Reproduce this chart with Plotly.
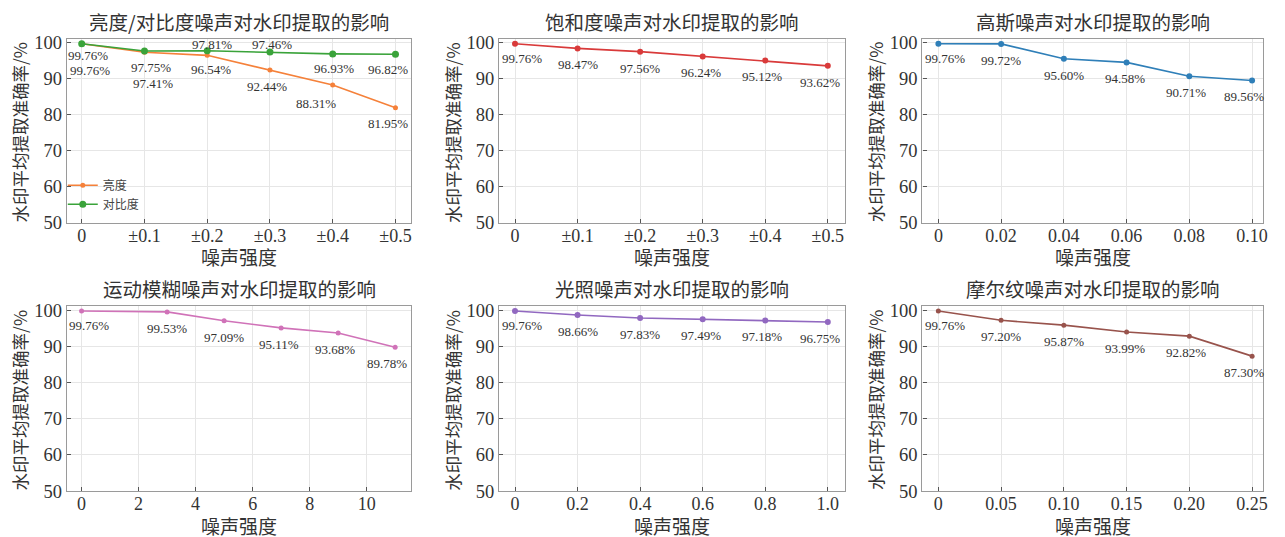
import plotly.graph_objects as go

# ---------------- data ----------------
idx_x = [0, 0.1, 0.2, 0.3, 0.4, 0.5]
idx_ticktext = ["0", "±0.1", "±0.2", "±0.3", "±0.4", "±0.5"]
brightness = [99.76, 97.41, 96.54, 92.44, 88.31, 81.95]
contrast = [99.76, 97.75, 97.81, 97.46, 96.93, 96.82]
saturation = [99.76, 98.47, 97.56, 96.24, 95.12, 93.62]

gauss_x = [0, 0.02, 0.04, 0.06, 0.08, 0.10]
gauss_ticktext = ["0", "0.02", "0.04", "0.06", "0.08", "0.10"]
gauss = [99.76, 99.72, 95.60, 94.58, 90.71, 89.56]

blur_x = [0, 3, 5, 7, 9, 11]
blur_ticks = [0, 2, 4, 6, 8, 10]
blur_ticktext = ["0", "2", "4", "6", "8", "10"]
blur = [99.76, 99.53, 97.09, 95.11, 93.68, 89.78]

light_x = [0, 0.2, 0.4, 0.6, 0.8, 1.0]
light_ticktext = ["0", "0.2", "0.4", "0.6", "0.8", "1.0"]
light = [99.76, 98.66, 97.83, 97.49, 97.18, 96.75]

moire_x = [0, 0.05, 0.10, 0.15, 0.20, 0.25]
moire_ticktext = ["0", "0.05", "0.10", "0.15", "0.20", "0.25"]
moire = [99.76, 97.20, 95.87, 93.99, 92.82, 87.30]

titles = ["亮度/对比度噪声对水印提取的影响", "饱和度噪声对水印提取的影响", "高斯噪声对水印提取的影响",
          "运动模糊噪声对水印提取的影响", "光照噪声对水印提取的影响", "摩尔纹噪声对水印提取的影响"]
y_ticks = [50, 60, 70, 80, 90, 100]

# ---------------- style ----------------
SERIF = "Liberation Serif, Times New Roman, Noto Sans CJK SC, serif"
CJK = "Noto Sans CJK SC, Liberation Serif, serif"
OFF = 8                      # default page body margin
W, H = 1285 - 2 * OFF, 537
SY, CY = 0.971, 4.7          # observed vertical mapping of the page in the photo


def px(v):
    return (v - OFF) / W


def py(v):
    return 1 - ((v - CY) / SY - OFF) / H


# frame pixel boxes in window coordinates (left, right, top, bottom)
cols = [(67, 413), (501, 848), (926, 1268)]
rows = [(38, 222), (305, 490)]

fig = go.Figure()

panels = [
    dict(x=idx_x, ticks=idx_x, tt=idx_ticktext, rng=[-0.0238, 0.5254]),
    dict(x=idx_x, ticks=idx_x, tt=idx_ticktext, rng=[-0.0255, 0.527]),
    dict(x=gauss_x, ticks=gauss_x, tt=gauss_ticktext, rng=[-0.0051, 0.1035]),
    dict(x=blur_x, ticks=blur_ticks, tt=blur_ticktext, rng=[-0.52, 11.57]),
    dict(x=light_x, ticks=light_x, tt=light_ticktext, rng=[-0.051, 1.054]),
    dict(x=moire_x, ticks=moire_x, tt=moire_ticktext, rng=[-0.0127, 0.2587]),
]

series = [
    (0, brightness, "亮度", "#f5813a", 5, True),
    (0, contrast, "对比度", "#3aa33a", 7, True),
    (1, saturation, "饱和度", "#d93a3a", 6, False),
    (2, gauss, "高斯", "#2f7fb8", 6, False),
    (3, blur, "运动模糊", "#d072b8", 5, False),
    (4, light, "光照", "#9168c0", 6, False),
    (5, moire, "摩尔纹", "#98534c", 5, False),
]

layout = dict(
    width=W, height=H, margin=dict(l=0, r=0, t=0, b=0),
    paper_bgcolor="white", plot_bgcolor="white",
    font=dict(family=SERIF, color="#333333"),
    showlegend=True,
    legend=dict(x=px(63), y=py(170), xanchor="left", yanchor="top",
                bgcolor="rgba(0,0,0,0)", font=dict(family=CJK, size=12, color="#444444"),
                itemwidth=30, tracegroupgap=0, traceorder="normal"),
)

annotations = []
for i, p in enumerate(panels):
    r, c = divmod(i, 3)
    (xl, xr), (yt, yb) = cols[c], rows[r]
    n = "" if i == 0 else str(i + 1)
    layout["xaxis" + n] = dict(
        domain=[px(xl), px(xr)], range=p["rng"], anchor="y" + n,
        tickvals=p["ticks"], ticktext=p["tt"], tickfont=dict(size=18, family=SERIF, color="#333333"),
        ticklabelstandoff=-4,
        showgrid=True, gridcolor="#e6e6e6", gridwidth=1, zeroline=False,
        showline=True, linecolor="#9a9a9a", linewidth=1.3, mirror=True,
        ticks="inside", ticklen=4, tickcolor="#555555", tickwidth=1,
    )
    layout["yaxis" + n] = dict(
        domain=[py(yb), py(yt)], range=[50, 101.2], anchor="x" + n,
        tickvals=y_ticks, tickfont=dict(size=18.5, family=SERIF, color="#333333"),
        showgrid=True, gridcolor="#e6e6e6", gridwidth=1, zeroline=False,
        showline=True, linecolor="#9a9a9a", linewidth=1.3, mirror=True,
        ticks="inside", ticklen=4, tickcolor="#555555", tickwidth=1,
    )
    cx = (xl + xr) / 2
    annotations.append(dict(text=titles[i], x=px(cx), y=py(yt - 17), xref="paper", yref="paper",
                            showarrow=False, xanchor="center", yanchor="middle",
                            font=dict(family=CJK, size=19.5, color="#333333")))
    annotations.append(dict(text="噪声强度", x=px(cx), y=py(yb + 34), xref="paper", yref="paper",
                            showarrow=False, xanchor="center", yanchor="middle",
                            font=dict(family=CJK, size=19, color="#333333")))
    annotations.append(dict(text="水印平均提取准确率/%", x=px(xl - 47), y=py((yt + yb) / 2 + 2),
                            xref="paper", yref="paper", textangle=-90,
                            showarrow=False, xanchor="center", yanchor="middle",
                            font=dict(family=CJK, size=17.5, color="#333333")))

# label offsets (pixels) for the first panel, where two series overlap
offsets = {
    "亮度": [(8, -22), (9, -27), (4, -10), (-3, -12), (-17, -14), (-7, -11)],
    "对比度": [(6, -7), (7, -12), (5, 2), (2, 3), (1, -10), (-7, -11)],
}
default_off = [(7, -10), (0, -12), (0, -12), (-2, -12), (-3, -12), (-8, -12)]

for (pi, ys, name, color, msize, legend) in series:
    n = "" if pi == 0 else str(pi + 1)
    xs = panels[pi]["x"]
    fig.add_trace(go.Scatter(
        x=xs, y=ys, mode="lines+markers", name=name, showlegend=legend,
        line=dict(color=color, width=1.6), marker=dict(color=color, size=msize),
        xaxis="x" + n, yaxis="y" + n,
    ))
    offs = offsets.get(name, default_off)
    for k, (xv, yv) in enumerate(zip(xs, ys)):
        dx, dy = offs[k]
        annotations.append(dict(text=f"{yv:.2f}%", x=xv, y=yv, xref="x" + n, yref="y" + n,
                                showarrow=False, xanchor="center", yanchor="top" if dy < 0 else "bottom",
                                xshift=dx, yshift=dy + (5 if dy < 0 else -5),
                                font=dict(family=SERIF, size=13, color="#333333")))

layout["annotations"] = annotations
fig.update_layout(**layout)
fig.write_html("out.html")
